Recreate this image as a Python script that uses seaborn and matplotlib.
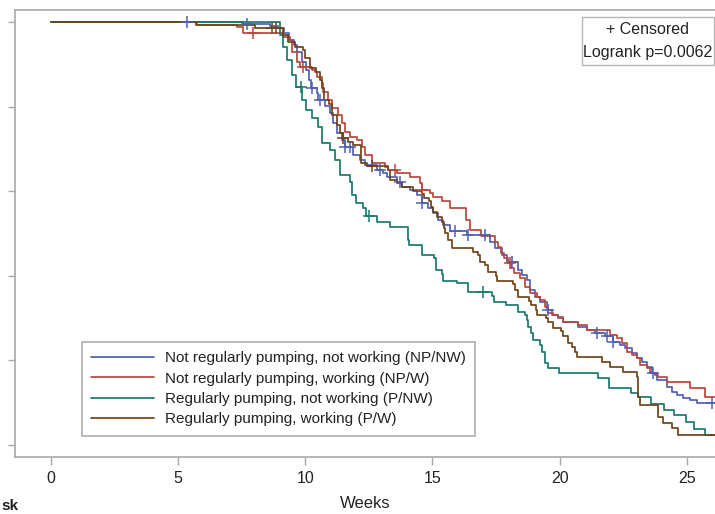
import numpy as np
import pandas as pd
import matplotlib
matplotlib.use("Agg")
import matplotlib.pyplot as plt
from matplotlib.patches import Rectangle
import seaborn as sns

# ---------------- data ----------------
groups = ["Not regularly pumping, not working (NP/NW)",
          "Not regularly pumping, working (NP/W)",
          "Regularly pumping, not working (P/NW)",
          "Regularly pumping, working (P/W)"]

t_np_nw = [0, 7.55, 8.61, 8.93, 9.16, 9.36, 9.56, 9.67, 9.87, 10.03, 10.15, 10.22, 10.46, 10.50,
           10.77, 10.97, 11.09, 11.25, 11.44, 11.56, 11.88, 12.15, 12.35, 12.82, 13.06, 13.21,
           13.61, 13.80, 14.12, 14.39, 14.59, 14.82, 15.02, 15.22, 15.41, 15.69, 16.36, 17.26,
           17.46, 17.73, 17.93, 18.36, 18.52, 18.72, 18.84, 19.03, 19.23, 19.50, 19.70, 19.94,
           20.13, 20.72, 21.08, 21.39, 21.79, 22.10, 22.38, 22.57, 22.85, 23.04, 23.24, 23.44,
           23.63, 23.83, 24.22, 24.42, 24.62, 24.85, 25.13, 25.40, 26.2]
s_np_nw = [1.0, .995, .991, .986, .974, .957, .946, .929, .905, .887, .863, .844, .832, .816,
           .801, .785, .761, .738, .721, .704, .686, .674, .662, .650, .643, .634,
           .622, .610, .603, .591, .572, .560, .548, .532, .520, .506, .496, .480,
           .466, .449, .433, .414, .402, .390, .366, .350, .338, .319, .307, .300,
           .291, .279, .272, .265, .258, .243, .236, .229, .217, .206, .196, .184,
           .170, .154, .137, .125, .118, .111, .106, .099, .099]
c_np_nw = [5.35, 7.71, 10.26, 10.58, 11.56, 11.76, 12.94, 13.72, 14.59, 15.89, 16.40, 17.07,
           18.13, 19.54, 21.47, 21.86, 22.10, 23.67, 25.99]

t_np_w = [0, 5.74, 7.31, 7.55, 9.12, 9.40, 9.48, 9.67, 9.79, 10.26, 10.38, 10.46, 10.66, 10.70,
          10.89, 11.05, 11.29, 11.44, 11.56, 11.76, 12.03, 12.23, 12.35, 12.62, 13.13, 13.25,
          13.61, 14.12, 14.51, 14.59, 14.90, 15.02, 15.38, 15.69, 16.32, 16.48, 16.91, 17.46,
          17.58, 17.70, 17.81, 17.97, 18.09, 18.21, 18.44, 18.64, 18.84, 19.11, 19.23, 19.43,
          19.54, 19.74, 19.94, 20.13, 20.72, 21.08, 21.98, 22.26, 22.45, 22.65, 22.85, 23.04,
          23.16, 23.44, 23.55, 23.75, 23.87, 24.22, 25.13, 25.72, 26.2]
s_np_w = [1.0, .993, .988, .974, .965, .957, .929, .905, .894, .887, .882, .870, .856, .835,
          .816, .797, .780, .761, .740, .728, .721, .704, .686, .667, .657, .650,
          .643, .634, .619, .603, .596, .586, .577, .560, .532, .508, .494, .480,
          .468, .454, .442, .430, .418, .407, .395, .374, .359, .350, .343, .326,
          .312, .307, .303, .291, .284, .272, .260, .253, .241, .220, .213, .206,
          .189, .182, .170, .165, .161, .149, .135, .113, .113]
c_np_w = [7.94, 9.91, 13.53, 14.59, 18.05]

t_p_nw = [0, 9.00, 9.12, 9.28, 9.48, 9.63, 9.87, 10.03, 10.26, 10.50, 10.66, 10.97, 11.17, 11.36,
          11.76, 11.84, 11.99, 12.27, 12.39, 12.82, 13.33, 14.04, 14.08, 14.59, 15.06, 15.14,
          15.38, 15.41, 15.97, 16.40, 17.34, 17.42, 17.89, 18.36, 18.64, 18.72, 18.76, 18.88,
          18.95, 19.23, 19.31, 19.42, 19.54, 19.98, 21.51, 21.94, 22.81, 23.08, 23.59, 24.11,
          24.50, 24.97, 25.29, 25.72, 26.2]
s_p_nw = [1.0, .969, .941, .910, .875, .846, .816, .792, .773, .752, .714, .697, .674, .638,
          .622, .591, .572, .560, .541, .527, .515, .485, .473, .449, .442, .414,
          .404, .388, .383, .362, .352, .338, .331, .314, .307, .296, .279, .265,
          .248, .236, .220, .194, .182, .170, .158, .135, .123, .113, .097, .083,
          .071, .054, .038, .024, .024]
c_p_nw = [9.82, 12.50, 16.99]

t_p_w = [0, 5.70, 8.02, 9.12, 9.32, 9.60, 9.91, 9.99, 10.18, 10.42, 10.58, 10.66, 10.74, 10.93,
         11.05, 11.25, 11.36, 11.48, 11.68, 11.88, 12.19, 12.43, 13.25, 13.33, 13.61, 13.80,
         14.24, 14.59, 14.67, 14.86, 14.94, 15.02, 15.18, 15.38, 15.45, 15.49, 15.61, 15.77,
         16.59, 16.79, 16.87, 17.07, 17.18, 17.50, 17.54, 18.17, 18.25, 18.36, 18.80, 18.88,
         19.07, 19.11, 19.47, 19.54, 19.74, 20.06, 20.13, 20.33, 20.49, 20.61, 20.68, 21.67,
         21.98, 22.49, 23.04, 23.08, 23.16, 23.87, 24.07, 24.42, 24.66, 26.2]
s_p_w = [1.0, .993, .986, .969, .953, .941, .934, .915, .891, .882, .863, .844, .816, .806,
         .780, .757, .738, .726, .716, .709, .667, .660, .650, .626, .619, .610,
         .600, .593, .584, .577, .563, .551, .539, .527, .513, .501, .485, .466,
         .456, .449, .433, .426, .409, .400, .388, .381, .366, .350, .340, .331,
         .319, .307, .300, .291, .277, .270, .258, .241, .232, .220, .208, .196,
         .184, .173, .161, .113, .095, .066, .052, .040, .024, .024]
c_p_w = [8.69, 8.85, 11.48, 12.62]

x_ticks = [0, 5, 10, 15, 20, 25]
y_ticks = [0.0, 0.2, 0.4, 0.6, 0.8, 1.0]
x_label = "Weeks"
inset_lines = ["+ Censored", "Logrank p=0.0062"]

colors = ["#4f5fb4", "#b9473c", "#18796c", "#6e4418"]

# ---------------- tables ----------------
curves = []
cens = []
for g, t, s, c in zip(groups, [t_np_nw, t_np_w, t_p_nw, t_p_w],
                      [s_np_nw, s_np_w, s_p_nw, s_p_w],
                      [c_np_nw, c_np_w, c_p_nw, c_p_w]):
    curves.append(pd.DataFrame({"t": t, "S": s, "group": g}))
    ta = np.asarray(t); sa = np.asarray(s)
    idx = np.searchsorted(ta, np.asarray(c), side="right") - 1
    cens.append(pd.DataFrame({"t": c, "S": sa[idx], "group": g}))
df = pd.concat(curves, ignore_index=True)
dfc = pd.concat(cens, ignore_index=True)

# ---------------- figure ----------------
sns.set_style("white")
plt.rcParams["font.family"] = ["Liberation Sans", "DejaVu Sans"]

W, H = 715, 514
fig = plt.figure(figsize=(W / 100, H / 100), dpi=100)
ax_l, ax_r, ax_t, ax_b = 15, 715, 10, 457
ax = fig.add_axes([ax_l / W, 1 - ax_b / H, (ax_r - ax_l) / W, (ax_b - ax_t) / H])

palette = dict(zip(groups, colors))
sns.lineplot(data=df, x="t", y="S", hue="group", hue_order=groups, palette=palette,
             drawstyle="steps-post", estimator=None, sort=False, lw=1.25, legend=False, ax=ax)
sns.scatterplot(data=dfc, x="t", y="S", hue="group", hue_order=groups, palette=palette,
                marker="+", s=70, linewidth=1.1, legend=False, ax=ax, zorder=3)

x0 = (15 - 51) / 25.43
x1 = (715 - 51) / 25.43
ax.set_xlim(x0, x1)
ax.set_ylim((445 - 457) / 423, (445 - 10) / 423)
ax.set_xticks(x_ticks)
ax.set_xticklabels([str(v) for v in x_ticks], fontsize=11.5, color="#222222")
ax.set_yticks(y_ticks)
ax.set_yticklabels([])
ax.set_ylabel("")
ax.set_xlabel(x_label, fontsize=12, color="#222222", labelpad=7)
ax.tick_params(axis="x", length=6, width=1, color="#a8a8a8", pad=4, direction="out", bottom=True)
ax.tick_params(axis="y", length=5, width=1, color="#a8a8a8", direction="out", left=True)
for side in ["left", "bottom", "top"]:
    ax.spines[side].set_color("#a8a8a8")
    ax.spines[side].set_linewidth(1.2)
ax.spines["right"].set_visible(False)

handles = ax.get_lines()[:4]
leg = ax.legend(handles, groups, loc="upper left",
                bbox_to_anchor=(82 / W, 1 - 342 / H), bbox_transform=fig.transFigure,
                borderaxespad=0, frameon=True, fancybox=False, fontsize=11,
                handlelength=4.1, handletextpad=0.75, labelspacing=0.42, borderpad=0.6)
leg.get_frame().set_edgecolor("#9a9a9a")
leg.get_frame().set_linewidth(1.2)
for tx in leg.get_texts():
    tx.set_color("#222222")

# inset box (censored / logrank)
fig.patches.append(Rectangle((582 / W, 1 - 65 / H), (714 - 582) / W, 48 / H,
                             transform=fig.transFigure, fill=False,
                             edgecolor="#b5b5b5", linewidth=1.0))
fig.text(648 / W, 1 - 30 / H, inset_lines[0], ha="center", va="center", fontsize=11.5, color="#222222")
fig.text(648 / W, 1 - 52 / H, inset_lines[1], ha="center", va="center", fontsize=11.5, color="#222222")

fig.text(1 / W, 1 / H, "sk", ha="left", va="bottom", fontsize=11, fontweight="bold", color="#222222")

fig.savefig("out.png", dpi=100)
